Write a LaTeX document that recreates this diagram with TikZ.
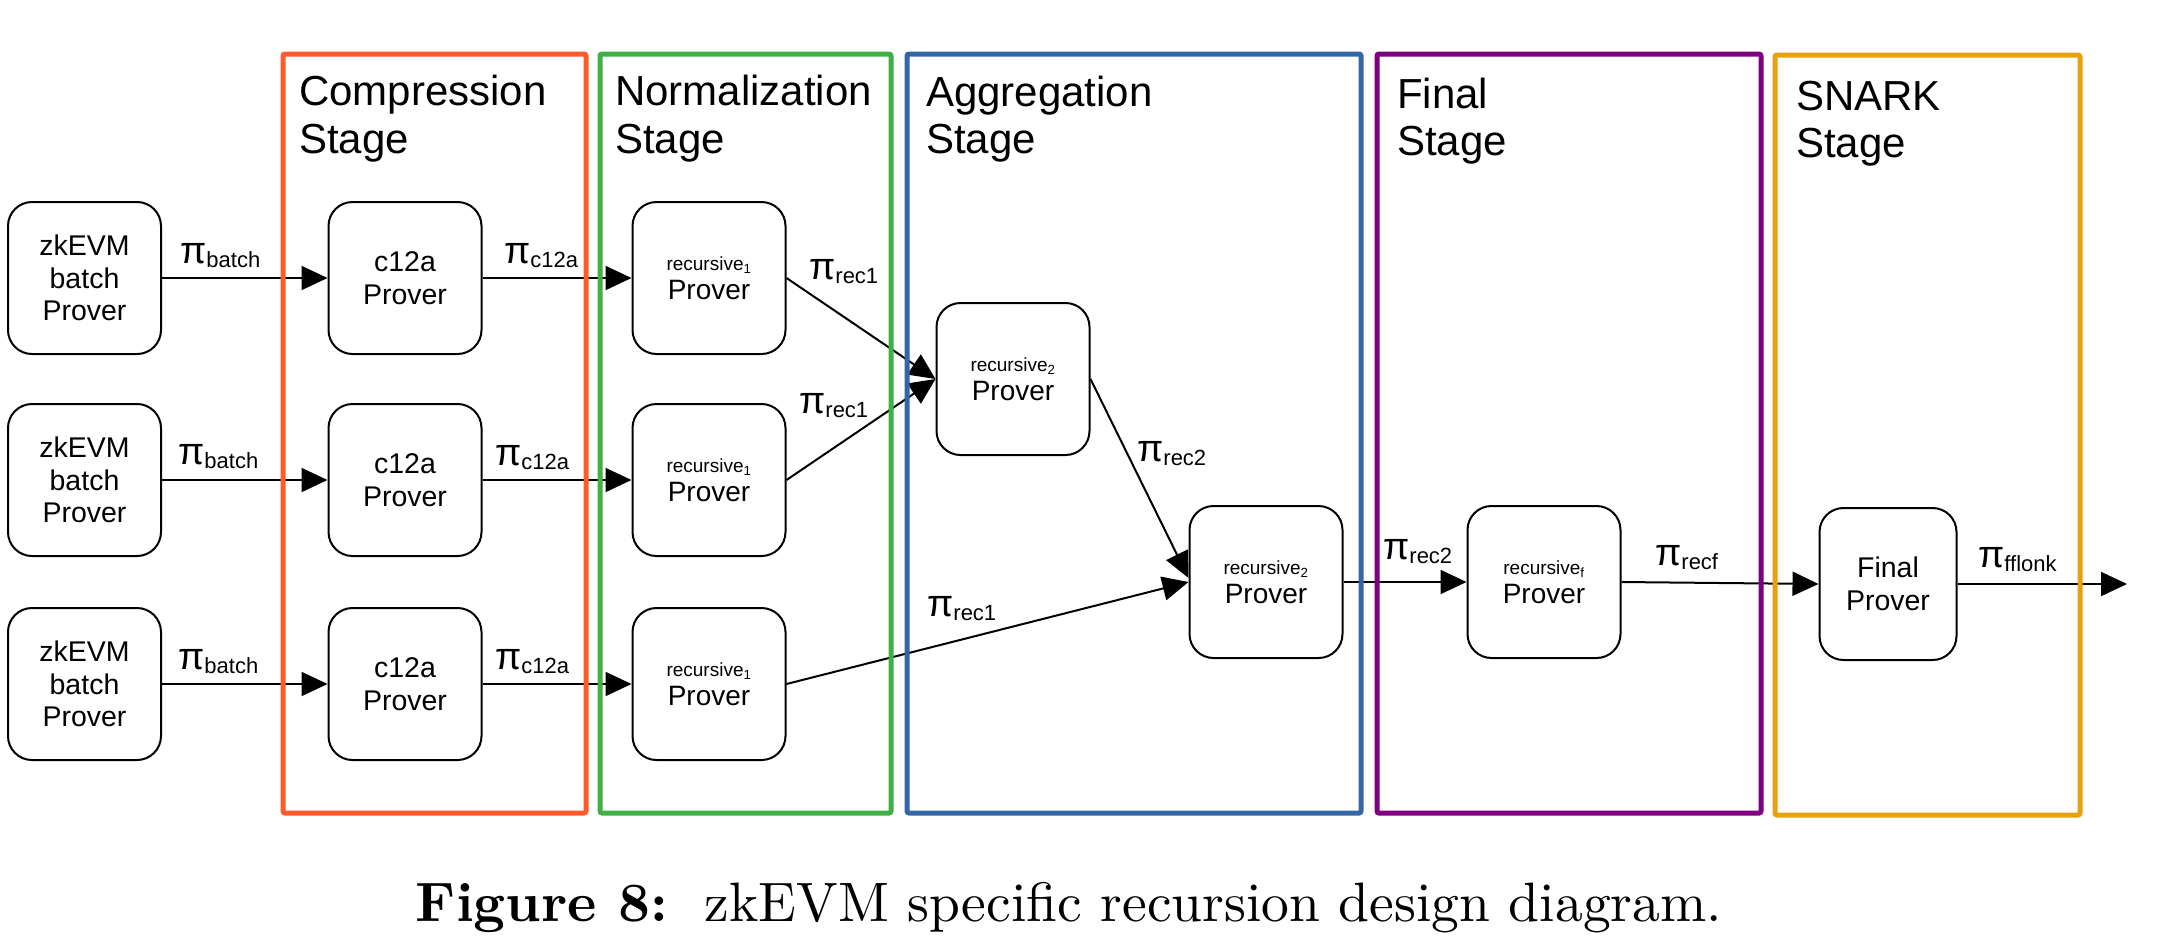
\documentclass[tikz,border=0pt]{standalone}
\usepackage{fontspec}
\newfontfamily\arialfam{Liberation Sans}
\usetikzlibrary{arrows.meta}
\definecolor{cRed}{HTML}{FF5A2C}
\definecolor{cGreen}{HTML}{3FAF46}
\definecolor{cBlue}{HTML}{3465A4}
\definecolor{cPurple}{HTML}{7F007F}
\definecolor{cOrange}{HTML}{E8A00C}
\newcommand\reclines[1]{{\fontsize{19}{19}\selectfont recursive\textsubscript{#1}}\\[-3pt]{\fontsize{28}{28}\selectfont Prover}}
\newcommand\pilab[1]{{\fontsize{38}{38}\selectfont π}{\fontsize{22}{22}\selectfont\raisebox{-4pt}{#1}}}
\tikzset{
  stagebox/.style={line width=5pt, rounded corners=2pt},
  prover/.style={draw, line width=2pt, rounded corners=24pt, minimum width=153pt, minimum height=152pt, inner sep=0pt, align=center, font=\arialfam\fontsize{28.5}{32.5}\selectfont},
  conn/.style={line width=2pt, -{Triangle[length=26pt,width=24pt]}},
  plabel/.style={anchor=base west, inner sep=0pt, font=\arialfam},
  stitle/.style={anchor=base west, inner sep=0pt, font=\arialfam\fontsize{42}{48}\selectfont},
}
\begin{document}
\begin{tikzpicture}[x=1pt,y=-1pt]
\useasboundingbox (0,0) rectangle (2173,943);
% provers
\node[prover] (z1) at (84.5,278) {zkEVM\\batch\\Prover};
\node[prover] (z2) at (84.5,480) {zkEVM\\batch\\Prover};
\node[prover] (z3) at (84.5,684) {zkEVM\\batch\\Prover};
\node[prover] (c1) at (405,278) {c12a\\Prover};
\node[prover] (c2) at (405,480) {c12a\\Prover};
\node[prover] (c3) at (405,684) {c12a\\Prover};
\node[prover] (r1a) at (709,278) {\reclines{1}};
\node[prover] (r1b) at (709,480) {\reclines{1}};
\node[prover] (r1c) at (709,684) {\reclines{1}};
\node[prover] (r2a) at (1013,379) {\reclines{2}};
\node[prover] (r2b) at (1266,582) {\reclines{2}};
\node[prover] (rf) at (1544,582) {\reclines{f}};
\node[prover, minimum width=137pt] (fp) at (1888,584) {Final\\Prover};
\coordinate (out) at (2127,584);
% connectors
\draw[conn] (z1) -- (c1);
\draw[conn] (z2) -- (c2);
\draw[conn] (z3) -- (c3);
\draw[conn] (c1) -- (r1a);
\draw[conn] (c2) -- (r1b);
\draw[conn] (c3) -- (r1c);
\draw[conn] (r1a.east) -- (r2a.west);
\draw[conn] (r1b.east) -- (r2a.west);
\draw[conn] (r2a.east) -- ([yshift=4pt]r2b.west);
\draw[conn] (r1c.east) -- (r2b.west);
\draw[conn] (r2b.east) -- (rf.west);
\draw[conn] (rf.east) -- (fp.west);
\draw[conn] (fp.east) -- (out);
% stage boxes
\draw[stagebox, cRed] (283,54) rectangle (586,813);
\draw[stagebox, cGreen] (600,54) rectangle (891,813);
\draw[stagebox, cBlue] (907,54) rectangle (1361,813);
\draw[stagebox, cPurple] (1377,54) rectangle (1761,813);
\draw[stagebox, cOrange] (1775,55) rectangle (2080,815);
% stage titles
\node[stitle] (t1a) at (299,105) {Compression};
\node[stitle] (t1b) at (299,153) {Stage};
\node[stitle] (t2a) at (615,105) {Normalization};
\node[stitle] (t2b) at (615,153) {Stage};
\node[stitle] (t3a) at (926,106) {Aggregation};
\node[stitle] (t3b) at (926,153) {Stage};
\node[stitle] (t4a) at (1397,108) {Final};
\node[stitle] (t4b) at (1397,155) {Stage};
\node[stitle] (t5a) at (1796,110) {SNARK};
\node[stitle] (t5b) at (1796,157) {Stage};
% labels
\node[plabel] (lb1) at (180,263) {\pilab{batch}};
\node[plabel] (lb2) at (178,464) {\pilab{batch}};
\node[plabel] (lb3) at (178,669) {\pilab{batch}};
\node[plabel] (lc1) at (504,263) {\pilab{c12a}};
\node[plabel] (lc2) at (495,465) {\pilab{c12a}};
\node[plabel] (lc3) at (495,669) {\pilab{c12a}};
\node[plabel] (lr1a) at (809,279) {\pilab{rec1}};
\node[plabel] (lr1b) at (799,413) {\pilab{rec1}};
\node[plabel] (lr1c) at (927,616) {\pilab{rec1}};
\node[plabel] (lr2a) at (1137,461) {\pilab{rec2}};
\node[plabel] (lr2b) at (1383,559) {\pilab{rec2}};
\node[plabel] (lrf) at (1655,565) {\pilab{recf}};
\node[plabel] (lff) at (1978,567) {\pilab{fflonk}};
% caption
\node[anchor=base, inner sep=0pt] (cap) at (1069,921) {\resizebox{1306pt}{!}{\textbf{Figure 8:}\ \ zkEVM specific recursion design diagram.}};
\end{tikzpicture}
\end{document}
